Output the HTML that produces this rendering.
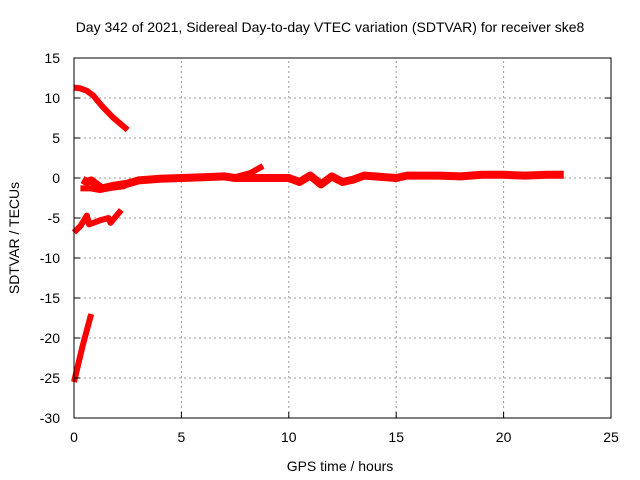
<!DOCTYPE html>
<html><head><meta charset="utf-8"><style>
body{margin:0;background:#fff;}
svg{display:block;font-family:"Liberation Sans",sans-serif;}
</style></head><body>
<svg id="chart" width="640" height="480">
<text x="330" y="32" font-size="14" text-anchor="middle">Day 342 of 2021, Sidereal Day-to-day VTEC variation (SDTVAR) for receiver ske8</text>
<text x="340" y="471" font-size="14" text-anchor="middle">GPS time / hours</text>
<text transform="translate(19,238) rotate(-90)" font-size="14" text-anchor="middle">SDTVAR / TECUs</text>
<g id="grid"></g><g id="series"></g>
<rect x="74" y="58" width="537" height="360" fill="none" stroke="#000" stroke-width="1"/>
<g id="ticks"></g>
</svg>
<script>
const xTicks=[0,5,10,15,20,25];
const yTicks=[15,10,5,0,-5,-10,-15,-20,-25,-30];
const seriesTop=[[0,11.3],[0.3,11.2],[0.6,10.9],[0.9,10.3],[1.3,9.0],[1.8,7.6],[2.5,6.0]];
const seriesMain=[[0.4,-0.2],[0.6,-0.5],[0.8,-0.3],[1.3,-1.3],[1.8,-1.0],[2.5,-0.7],[3,-0.3],[4,-0.1],[5,0],[6,0.1],[7,0.2],[7.5,0],[8,0],[9,0],[10,0],[10.5,-0.5],[11,0.3],[11.5,-0.8],[12,0.2],[12.5,-0.5],[13,-0.2],[13.5,0.3],[14,0.2],[15,0],[15.5,0.3],[17,0.3],[18,0.2],[19,0.4],[20,0.4],[21,0.3],[22,0.4],[22.8,0.4]];
const seriesLow=[[0.3,-1.3],[0.8,-1.3],[1.2,-1.5],[1.8,-1.2],[2.4,-1.0]];
const seriesRise=[[7.5,0.1],[8.2,0.6],[8.8,1.5]];
const seriesMid=[[0,-6.8],[0.3,-6.0],[0.6,-4.7],[0.7,-5.8],[1.2,-5.3],[1.6,-5.0],[1.7,-5.6],[2.2,-4.0]];
const seriesBottom=[[0,-25.5],[0.4,-21],[0.8,-17]];
const X0=74,X1=611,Y0=418,Y1=58,xmin=0,xmax=25,ymin=-30,ymax=15;
const sx=v=>X0+(v-xmin)/(xmax-xmin)*(X1-X0);
const sy=v=>Y0-(v-ymin)/(ymax-ymin)*(Y0-Y1);
const NS='http://www.w3.org/2000/svg';
const g=document.getElementById('grid'),t=document.getElementById('ticks'),s=document.getElementById('series');
function mk(tag,attrs,parent){const e=document.createElementNS(NS,tag);for(const k in attrs)e.setAttribute(k,attrs[k]);parent.appendChild(e);return e;}
xTicks.forEach(v=>{
 if(v>xmin&&v<xmax){const l=mk('line',{x1:sx(v),x2:sx(v),y1:Y0,y2:Y1,stroke:'#999','stroke-dasharray':'2,3'},g);
 
 }
 const tk=mk('line',{x1:sx(v),x2:sx(v),y1:Y0,y2:Y0-6,stroke:'#000'},t);
 
 
 const tx=mk('text',{x:sx(v),y:Y0+24,'font-size':14,'text-anchor':'middle'},t);tx.textContent=v;
 
 
});
yTicks.forEach(v=>{
 if(v>ymin&&v<ymax){const l=mk('line',{x1:X0,x2:X1,y1:sy(v),y2:sy(v),stroke:'#999','stroke-dasharray':'2,3'},g);
 
 }
 const tk=mk('line',{x1:X0,x2:X0+6,y1:sy(v),y2:sy(v),stroke:'#000'},t);
 
 
 const tk2=mk('line',{x1:X1,x2:X1-6,y1:sy(v),y2:sy(v),stroke:'#000'},t);
 
 
 const tx=mk('text',{x:X0-14,y:sy(v)+5,'font-size':14,'text-anchor':'end'},t);tx.textContent=v;
 
 
});
[seriesTop,seriesMain,seriesLow,seriesRise,seriesMid,seriesBottom].forEach((d,i)=>{
 const p=mk('polyline',{points:d.map(q=>sx(q[0])+','+sy(q[1])).join(' '),fill:'none',stroke:'#f00','stroke-width':(i===1?8:6),'stroke-linejoin':'round','stroke-linecap':'butt'},s);
 
 
});
</script>
</body></html>
